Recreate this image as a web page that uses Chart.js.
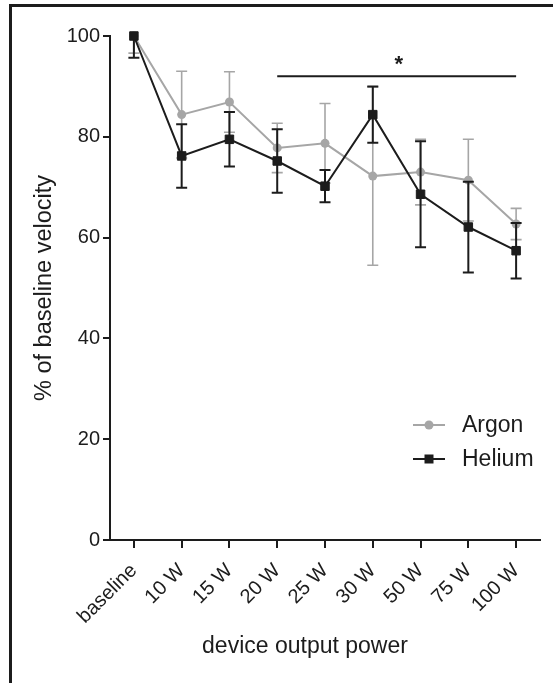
<!DOCTYPE html>
<html>
<head>
<meta charset="utf-8">
<script src="https://cdn.jsdelivr.net/npm/chart.js@4.4.1/dist/chart.umd.min.js"></script>
<style>
  body { margin: 0; background: #fff; }
  .frame { position: absolute; left: 9px; top: 4px; width: 560px; height: 700px; border-left: 3px solid #1c1c1c; border-top: 3px solid #1c1c1c; }
  .wrap { position: absolute; left: 0; top: 0; width: 553px; height: 683px; }
</style>
</head>
<body>
<div class="frame"></div>
<div class="wrap"><canvas id="chart"></canvas></div>
<script>
const labels = ['baseline', '10 W', '15 W', '20 W', '25 W', '30 W', '50 W', '75 W', '100 W'];
const argonMean = [100, 84.4, 86.9, 77.8, 78.7, 72.2, 73.0, 71.4, 62.7];
const argonSd = [3.4, 8.6, 6.0, 4.9, 7.9, 17.7, 6.5, 8.1, 3.1];
const heliumMean = [100, 76.2, 79.5, 75.2, 70.2, 84.4, 68.6, 62.1, 57.4];
const heliumSd = [4.3, 6.3, 5.4, 6.3, 3.2, 5.6, 10.5, 9.0, 5.5];
const yTicks = [0, 20, 40, 60, 80, 100];
const sigRange = ['20 W', '100 W'];
const sigLevel = 92;
const sigStarLevel = 95;
const xTitle = 'device output power';

const FONT = "'Liberation Sans', Arial, sans-serif";
const INK = '#1c1c1c';
const GREY = '#a6a6a6';
const errors = [argonSd, heliumSd];

// error bars, drawn under each dataset's line
const errorBars = {
    id: 'errorBars',
    beforeDatasetDraw(chart, args) {
        const ds = chart.data.datasets[args.index];
        const sd = errors[args.index];
        const y = chart.scales.y;
        const a = chart.chartArea;
        const ctx = chart.ctx;
        ctx.save();
        ctx.beginPath();
        ctx.rect(a.left, a.top, a.right - a.left, a.bottom - a.top);
        ctx.clip();
        ctx.strokeStyle = ds.borderColor;
        ctx.lineWidth = args.index === 0 ? 1.6 : 2;
        const cap = 5.5;
        args.meta.data.forEach((pt, i) => {
            const hi = y.getPixelForValue(ds.data[i] + sd[i]);
            const lo = y.getPixelForValue(ds.data[i] - sd[i]);
            ctx.beginPath();
            ctx.moveTo(pt.x, hi); ctx.lineTo(pt.x, lo);
            ctx.moveTo(pt.x - cap, hi); ctx.lineTo(pt.x + cap, hi);
            ctx.moveTo(pt.x - cap, lo); ctx.lineTo(pt.x + cap, lo);
            ctx.stroke();
        });
        ctx.restore();
    }
};

// significance bar with star
const sigBar = {
    id: 'sigBar',
    afterDatasetsDraw(chart) {
        const x = chart.scales.x, y = chart.scales.y, ctx = chart.ctx;
        const x1 = x.getPixelForValue(labels.indexOf(sigRange[0]));
        const x2 = x.getPixelForValue(labels.indexOf(sigRange[1]));
        const yy = y.getPixelForValue(sigLevel);
        ctx.save();
        ctx.strokeStyle = INK;
        ctx.lineWidth = 2;
        ctx.beginPath();
        ctx.moveTo(x1, yy); ctx.lineTo(x2, yy);
        ctx.stroke();
        ctx.fillStyle = INK;
        ctx.font = 'bold 22px ' + FONT;
        ctx.textAlign = 'center';
        ctx.textBaseline = 'middle';
        ctx.fillText('*', (x1 + x2) / 2 + 2, y.getPixelForValue(sigStarLevel) + 4);
        ctx.restore();
    }
};

// legend inside plot, lower right; x axis title a bit left of centre
const innerLegend = {
    id: 'innerLegend',
    afterDraw(chart) {
        const ctx = chart.ctx;
        ctx.save();
        chart.data.datasets.forEach((ds, i) => {
            const cy = 425 + i * 34;
            ctx.strokeStyle = ds.borderColor;
            ctx.lineWidth = 2;
            ctx.beginPath();
            ctx.moveTo(413, cy); ctx.lineTo(445, cy);
            ctx.stroke();
            ctx.fillStyle = ds.borderColor;
            if (ds.pointStyle === 'rect') {
                ctx.fillRect(429 - 4.5, cy - 4.5, 9, 9);
            } else {
                ctx.beginPath();
                ctx.arc(429, cy, 4.5, 0, Math.PI * 2);
                ctx.fill();
            }
            ctx.fillStyle = INK;
            ctx.font = '23px ' + FONT;
            ctx.textAlign = 'left';
            ctx.textBaseline = 'middle';
            ctx.fillText(ds.label, 462, cy + 1);
        });
        ctx.font = '23px ' + FONT;
        ctx.textAlign = 'center';
        ctx.textBaseline = 'middle';
        ctx.fillText(xTitle, 305, 647);
        ctx.restore();
    }
};

new Chart(document.getElementById('chart'), {
    type: 'line',
    data: {
        labels: labels,
        datasets: [{
            label: 'Argon',
            data: argonMean,
            borderColor: GREY,
            backgroundColor: GREY,
            borderWidth: 2,
            pointStyle: 'circle',
            pointRadius: 4.5,
            pointBorderWidth: 0,
            clip: false,
            order: 2
        }, {
            label: 'Helium',
            data: heliumMean,
            borderColor: INK,
            backgroundColor: INK,
            borderWidth: 2,
            pointStyle: 'rect',
            pointRadius: 6,
            pointBorderWidth: 1,
            clip: false,
            order: 1
        }]
    },
    options: {
        responsive: true,
        maintainAspectRatio: false,
        animation: false,
        layout: { padding: { left: 30, top: 36, right: 13, bottom: 22 } },
        plugins: { legend: { display: false }, tooltip: { enabled: false } },
        scales: {
            x: {
                offset: true,
                grid: { display: true, drawOnChartArea: false, offset: false, tickLength: 8, color: INK, lineWidth: 2 },
                border: { display: true, color: INK, width: 2 },
                ticks: { minRotation: 45, maxRotation: 45, padding: 11, color: INK, font: { family: FONT, size: 20 } },
                afterFit(scale) { scale.height = 121; }
            },
            y: {
                min: 0,
                max: 100,
                afterBuildTicks(scale) { scale.ticks = yTicks.map(v => ({ value: v })); },
                grid: { display: true, drawOnChartArea: false, tickLength: 7, color: INK, lineWidth: 2 },
                border: { display: true, color: INK, width: 2 },
                ticks: { padding: 3, color: INK, font: { family: FONT, size: 20 } },
                title: { display: true, text: '% of baseline velocity', color: INK, padding: 0, font: { family: FONT, size: 23.5 } },
                afterFit(scale) { scale.width = 80; }
            }
        }
    },
    plugins: [errorBars, sigBar, innerLegend]
});
</script>
</body>
</html>
